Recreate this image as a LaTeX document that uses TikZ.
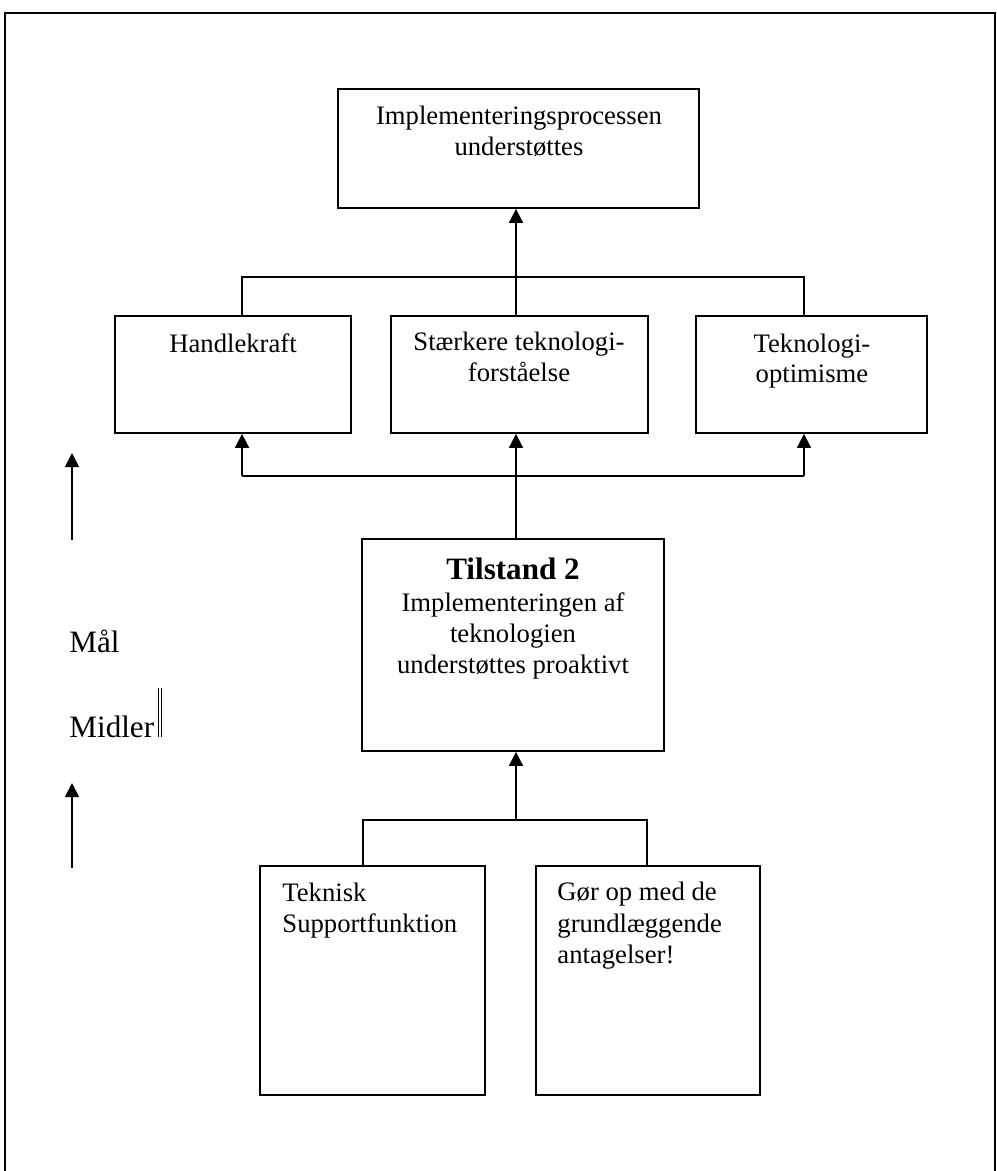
\documentclass[tikz,border=0pt]{standalone}
\usepackage{fontspec}
\setmainfont{Liberation Serif}
\usetikzlibrary{arrows.meta,fit}

\tikzset{
  box/.style={draw, line width=0.8pt, inner sep=0pt},
  txt/.style={inner sep=0pt, anchor=base, font=\fontsize{12}{14}\selectfont},
  side/.style={inner sep=0pt, anchor=base west, font=\fontsize{14}{16}\selectfont},
  head/.style={inner sep=0pt, anchor=base, font=\fontsize{14}{16}\selectfont\bfseries},
  link/.style={line width=0.8pt},
  arr/.style={line width=0.8pt, -{Triangle[length=6.3pt,width=6.3pt]}}
}

\begin{document}
\begin{tikzpicture}[x=0.45pt,y=-0.45pt]
  \useasboundingbox (0,0) rectangle (997,1171);

  % page frame, open at the bottom
  \draw[line width=0.8pt] (5,1171) -- (5,13) -- (995,13) -- (995,1171);

  % helper coordinates for the connector columns
  \coordinate (mid) at (516,0);
  \coordinate (colL) at (242,0);
  \coordinate (colR) at (804,0);
  \coordinate (lowL) at (363,0);
  \coordinate (lowR) at (647,0);
  \coordinate (busTop) at (0,277);
  \coordinate (busMid) at (0,476);
  \coordinate (busLow) at (0,820);

  % boxes
  \node[box, fit={(338,89) (699,208)}] (goal) {};
  \node[box, fit={(115,316) (351,433)}] (hand) {};
  \node[box, fit={(391,316) (648,433)}] (tech) {};
  \node[box, fit={(696,316) (927,433)}] (opti) {};
  \node[box, fit={(362,539) (664,751)}] (state) {};
  \node[box, fit={(260,866) (485,1095)}] (supp) {};
  \node[box, fit={(536,866) (760,1095)}] (assu) {};

  % box texts
  \node[txt] (goal1) at (519,124) {Implementeringsprocessen};
  \node[txt] (goal2) at (519,155) {understøttes};
  \node[txt] (hand1) at (233,352) {Handlekraft};
  \node[txt] (tech1) at (519,350) {Stærkere teknologi-};
  \node[txt] (tech2) at (519,381) {forståelse};
  \node[txt] (opti1) at (812,352) {Teknologi-};
  \node[txt] (opti2) at (812,382) {optimisme};
  \node[head] (state0) at (513,579) {Tilstand 2};
  \node[txt] (state1) at (513,611) {Implementeringen af};
  \node[txt] (state2) at (513,642) {teknologien};
  \node[txt] (state3) at (513,673) {understøttes proaktivt};
  \node[txt, anchor=base west] (supp1) at (282,901) {Teknisk};
  \node[txt, anchor=base west] (supp2) at (282,932) {Supportfunktion};
  \node[txt, anchor=base west] (assu1) at (557,900) {Gør op med de};
  \node[txt, anchor=base west] (assu2) at (557,932) {grundlæggende};
  \node[txt, anchor=base west] (assu3) at (557,963) {antagelser!};

  % upper tree: the three outcomes feed the goal
  \draw[link] (hand.north -| colL) |- (busTop -| colR) -- (opti.north -| colR);
  \draw[arr] (tech.north -| mid) -- (goal.south -| mid);

  % middle tree: the state feeds the three outcomes
  \draw[arr] (state.north -| mid) -- (tech.south -| mid);
  \draw[link] (busMid -| colL) -- (busMid -| colR);
  \draw[arr] (busMid -| colL) -- (hand.south -| colL);
  \draw[arr] (busMid -| colR) -- (opti.south -| colR);

  % lower tree: the two means feed the state
  \draw[link] (supp.north -| lowL) |- (busLow -| lowR) -- (assu.north -| lowR);
  \draw[arr] (busLow -| mid) -- (state.south -| mid);

  % side legend
  \coordinate (a1s) at (72,540);
  \coordinate (a1e) at (72,453);
  \coordinate (a2s) at (72,868);
  \coordinate (a2e) at (72,783);
  \draw[arr] (a1s) -- (a1e);
  \draw[arr] (a2s) -- (a2e);
  \node[side] (maal) at (69,652) {Mål};
  \node[side] (midl) at (69,737) {Midler};
  \draw[line width=0.4pt] (midl.base east) ++(4,0) coordinate (bar1) -- ++(0,-49);
  \draw[line width=0.4pt] (bar1) ++(3,0) -- ++(0,-49);
\end{tikzpicture}
\end{document}
